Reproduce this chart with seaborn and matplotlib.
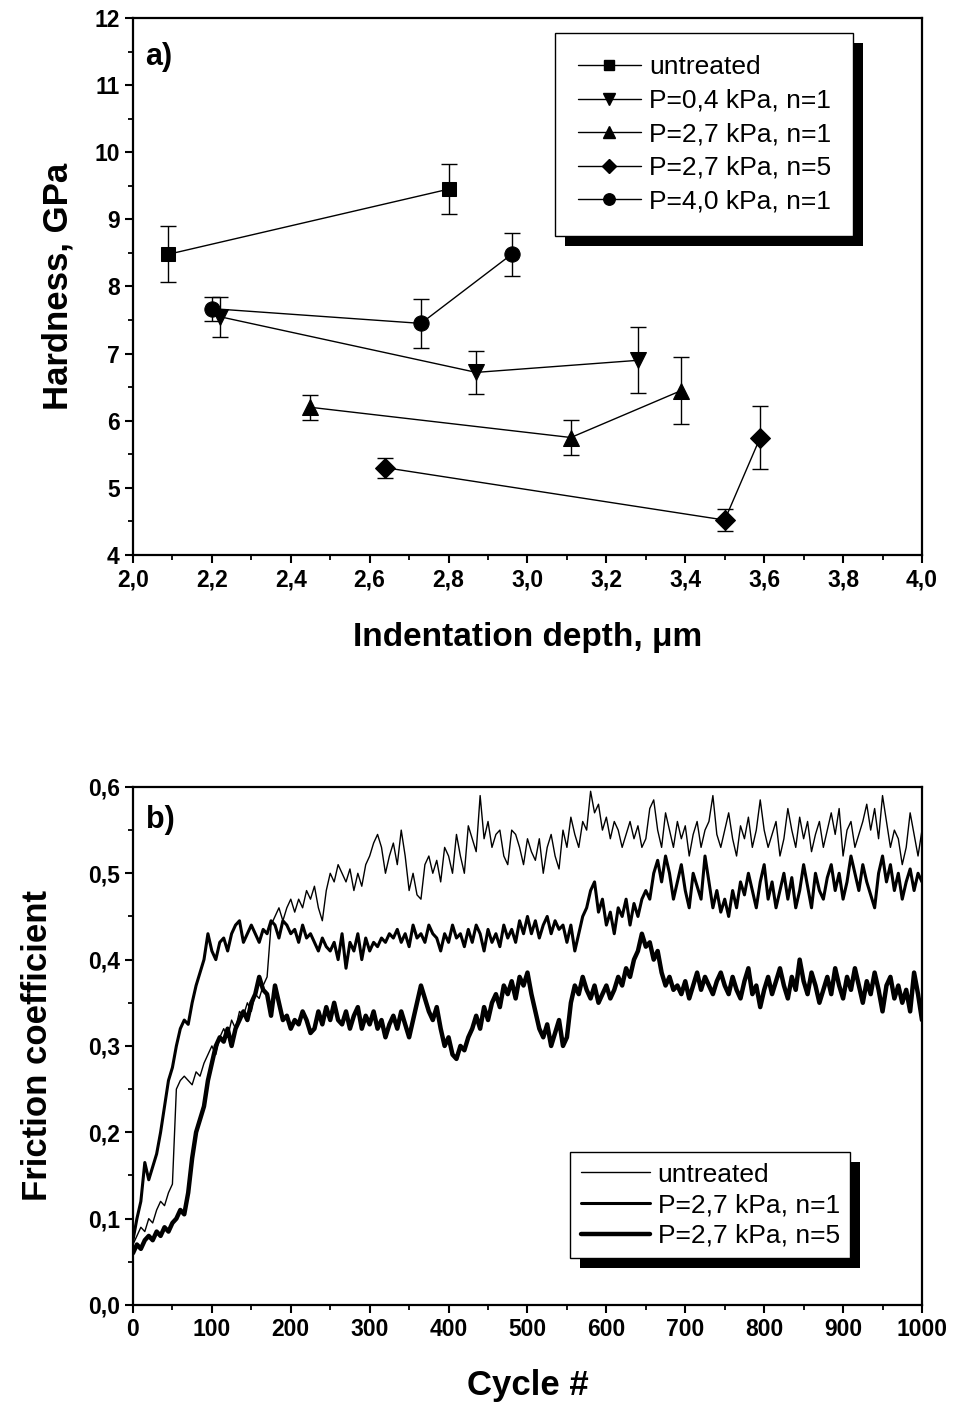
import numpy as np
import pandas as pd
import matplotlib
matplotlib.use("Agg")
import matplotlib.pyplot as plt
import matplotlib.patheffects as pe
from matplotlib.lines import Line2D
from matplotlib.ticker import MultipleLocator, FuncFormatter
import seaborn as sns

# ---------------- data: hardness ----------------
h_series = ["untreated", "P=0,4 kPa, n=1", "P=2,7 kPa, n=1", "P=2,7 kPa, n=5", "P=4,0 kPa, n=1"]
h_markers = ["s", "v", "^", "D", "o"]
depth_untreated = [2.09, 2.80]
hard_untreated = [8.48, 9.45]
err_untreated = [0.42, 0.375]
depth_p04 = [2.22, 2.87, 3.28]
hard_p04 = [7.55, 6.72, 6.90]
err_p04 = [0.30, 0.32, 0.49]
depth_p27n1 = [2.45, 3.11, 3.39]
hard_p27n1 = [6.20, 5.75, 6.45]
err_p27n1 = [0.19, 0.26, 0.50]
depth_p27n5 = [2.64, 3.50, 3.59]
hard_p27n5 = [5.30, 4.52, 5.75]
err_p27n5 = [0.15, 0.16, 0.47]
depth_p40 = [2.20, 2.73, 2.96]
hard_p40 = [7.67, 7.45, 8.48]
err_p40 = [0.18, 0.36, 0.32]

# ---------------- data: friction (every 5 cycles) ----------------
f_series = ["untreated", "P=2,7 kPa, n=1", "P=2,7 kPa, n=5"]
cycles = list(range(0, 1001, 5))
mu_untreated = [
    0.07, 0.08, 0.09, 0.085, 0.10, 0.095, 0.11, 0.12, 0.115, 0.13,
    0.14, 0.25, 0.26, 0.265, 0.26, 0.255, 0.27, 0.265, 0.28, 0.29,
    0.30, 0.29, 0.31, 0.32, 0.31, 0.33, 0.32, 0.34, 0.335, 0.35,
    0.34, 0.36, 0.355, 0.37, 0.38, 0.44, 0.45, 0.46, 0.445, 0.46,
    0.47, 0.455, 0.47, 0.46, 0.48, 0.47, 0.485, 0.46, 0.445, 0.48,
    0.50, 0.49, 0.51, 0.50, 0.49, 0.505, 0.48, 0.50, 0.485, 0.51,
    0.52, 0.535, 0.545, 0.53, 0.50, 0.52, 0.535, 0.51, 0.55, 0.52,
    0.48, 0.50, 0.475, 0.47, 0.51, 0.52, 0.50, 0.515, 0.49, 0.53,
    0.52, 0.50, 0.545, 0.52, 0.50, 0.555, 0.54, 0.525, 0.59, 0.54,
    0.56, 0.53, 0.545, 0.55, 0.52, 0.51, 0.55, 0.545, 0.53, 0.51,
    0.54, 0.525, 0.515, 0.54, 0.50, 0.53, 0.545, 0.52, 0.505, 0.55,
    0.53, 0.565, 0.545, 0.53, 0.56, 0.55, 0.595, 0.57, 0.58, 0.55,
    0.565, 0.54, 0.56, 0.55, 0.53, 0.545, 0.56, 0.54, 0.555, 0.53,
    0.54, 0.575, 0.585, 0.55, 0.53, 0.57, 0.55, 0.53, 0.56, 0.54,
    0.555, 0.52, 0.545, 0.56, 0.53, 0.55, 0.56, 0.59, 0.545, 0.53,
    0.55, 0.57, 0.54, 0.52, 0.555, 0.54, 0.565, 0.53, 0.55, 0.585,
    0.55, 0.53, 0.545, 0.56, 0.52, 0.54, 0.575, 0.55, 0.53, 0.565,
    0.54, 0.56, 0.525, 0.545, 0.56, 0.53, 0.55, 0.57, 0.545, 0.575,
    0.52, 0.55, 0.56, 0.53, 0.545, 0.56, 0.58, 0.55, 0.575, 0.54,
    0.59, 0.56, 0.53, 0.55, 0.54, 0.51, 0.53, 0.57, 0.545, 0.52,
    0.55,
]
mu_p27n1 = [
    0.075, 0.10, 0.12, 0.165, 0.145, 0.16, 0.175, 0.20, 0.23, 0.26,
    0.275, 0.30, 0.32, 0.33, 0.325, 0.35, 0.37, 0.385, 0.40, 0.43,
    0.41, 0.40, 0.42, 0.425, 0.41, 0.43, 0.44, 0.445, 0.42, 0.43,
    0.44, 0.43, 0.42, 0.435, 0.43, 0.445, 0.44, 0.425, 0.445, 0.44,
    0.43, 0.435, 0.42, 0.44, 0.425, 0.43, 0.42, 0.41, 0.425, 0.415,
    0.41, 0.42, 0.40, 0.43, 0.39, 0.42, 0.41, 0.43, 0.40, 0.425,
    0.41, 0.42, 0.415, 0.425, 0.42, 0.43, 0.425, 0.435, 0.42, 0.43,
    0.415, 0.44, 0.425, 0.43, 0.42, 0.44, 0.43, 0.425, 0.41, 0.43,
    0.42, 0.44, 0.425, 0.43, 0.415, 0.435, 0.42, 0.44, 0.43, 0.41,
    0.435, 0.42, 0.43, 0.415, 0.44, 0.425, 0.435, 0.42, 0.445, 0.43,
    0.45, 0.43, 0.445, 0.425, 0.44, 0.45, 0.43, 0.445, 0.435, 0.44,
    0.42, 0.44, 0.41, 0.43, 0.45, 0.46, 0.48, 0.49, 0.455, 0.47,
    0.44, 0.455, 0.43, 0.46, 0.45, 0.47, 0.44, 0.465, 0.45, 0.47,
    0.48, 0.47, 0.50, 0.515, 0.49, 0.52, 0.50, 0.47, 0.49, 0.51,
    0.48, 0.46, 0.50, 0.485, 0.47, 0.52, 0.49, 0.46, 0.48, 0.455,
    0.47, 0.45, 0.48, 0.46, 0.49, 0.475, 0.50, 0.48, 0.46, 0.49,
    0.51, 0.47, 0.49, 0.46, 0.48, 0.50, 0.47, 0.495, 0.46, 0.48,
    0.51, 0.485, 0.46, 0.50, 0.48, 0.47, 0.495, 0.51, 0.48, 0.50,
    0.47, 0.49, 0.52, 0.50, 0.48, 0.51, 0.49, 0.475, 0.46, 0.50,
    0.52, 0.49, 0.51, 0.48, 0.50, 0.47, 0.49, 0.505, 0.48, 0.50,
    0.49,
]
mu_p27n5 = [
    0.06, 0.07, 0.065, 0.075, 0.08, 0.075, 0.085, 0.08, 0.09, 0.085,
    0.095, 0.10, 0.11, 0.105, 0.13, 0.17, 0.20, 0.215, 0.23, 0.26,
    0.28, 0.30, 0.31, 0.305, 0.32, 0.30, 0.32, 0.33, 0.34, 0.33,
    0.35, 0.36, 0.38, 0.365, 0.36, 0.335, 0.37, 0.35, 0.33, 0.335,
    0.32, 0.33, 0.325, 0.34, 0.33, 0.315, 0.32, 0.34, 0.325, 0.345,
    0.33, 0.35, 0.33, 0.325, 0.34, 0.32, 0.335, 0.345, 0.32, 0.335,
    0.325, 0.34, 0.32, 0.33, 0.31, 0.325, 0.335, 0.32, 0.34, 0.325,
    0.31, 0.33, 0.35, 0.37, 0.355, 0.34, 0.33, 0.345, 0.32, 0.30,
    0.31, 0.29, 0.285, 0.30, 0.295, 0.31, 0.32, 0.335, 0.32, 0.345,
    0.33, 0.35, 0.36, 0.345, 0.37, 0.36, 0.375, 0.355, 0.38, 0.37,
    0.385, 0.36, 0.34, 0.32, 0.31, 0.325, 0.30, 0.315, 0.33, 0.30,
    0.31, 0.35, 0.37, 0.36, 0.38, 0.365, 0.355, 0.37, 0.35, 0.36,
    0.37, 0.355, 0.365, 0.38, 0.37, 0.39, 0.38, 0.40, 0.41, 0.43,
    0.415, 0.42, 0.40, 0.41, 0.385, 0.37, 0.38, 0.365, 0.37, 0.36,
    0.375, 0.355, 0.37, 0.385, 0.365, 0.38, 0.37, 0.36, 0.375, 0.385,
    0.37, 0.36, 0.38, 0.365, 0.355, 0.375, 0.39, 0.36, 0.37, 0.345,
    0.365, 0.38, 0.36, 0.375, 0.39, 0.37, 0.355, 0.38, 0.365, 0.40,
    0.375, 0.36, 0.385, 0.37, 0.35, 0.365, 0.38, 0.36, 0.39, 0.37,
    0.355, 0.38, 0.365, 0.39, 0.37, 0.35, 0.375, 0.36, 0.385, 0.365,
    0.34, 0.37, 0.38, 0.355, 0.37, 0.35, 0.365, 0.34, 0.385, 0.36,
    0.33,
]

# ---------------- style ----------------
sns.set_theme(style="ticks")
plt.rcParams["font.family"] = ["Liberation Sans", "DejaVu Sans"]
plt.rcParams.update({
    "text.color": "black",
    "axes.labelcolor": "black",
    "axes.linewidth": 1.6,
    "xtick.major.width": 1.5, "ytick.major.width": 1.5,
    "xtick.minor.width": 1.3, "ytick.minor.width": 1.3,
    "xtick.major.size": 6, "ytick.major.size": 6,
    "xtick.minor.size": 3.5, "ytick.minor.size": 3.5,
    "xtick.direction": "out", "ytick.direction": "out",
    "xtick.color": "black", "ytick.color": "black",
    "xtick.labelcolor": "black", "ytick.labelcolor": "black",
    "axes.edgecolor": "black",
})

fig = plt.figure(figsize=(9.58, 14.05), dpi=100)
ax1 = fig.add_axes([0.1388, 0.605, 0.8236, 0.3822])
ax2 = fig.add_axes([0.1388, 0.0712, 0.8236, 0.3687])

comma1 = FuncFormatter(lambda v, p: f"{v:.1f}".replace(".", ","))
TICK_FS = 16.5
LABEL_FS = 25

# ---------------- panel a) ----------------
depths = [depth_untreated, depth_p04, depth_p27n1, depth_p27n5, depth_p40]
hards = [hard_untreated, hard_p04, hard_p27n1, hard_p27n5, hard_p40]
errs = [err_untreated, err_p04, err_p27n1, err_p27n5, err_p40]
rows = []
for s, d, h, e in zip(h_series, depths, hards, errs):
    for di, hi, ei in zip(d, h, e):
        rows.append({"series": s, "depth": di, "hardness": hi, "err": ei})
hdf = pd.DataFrame(rows)

msizes = {"s": 10.5, "v": 12, "^": 12, "D": 10, "o": 11}
for s, m in zip(h_series, h_markers):
    sub = hdf[hdf["series"] == s]
    ax1.errorbar(sub["depth"], sub["hardness"], yerr=sub["err"], fmt="none",
                 ecolor="black", elinewidth=1.0, capsize=6, capthick=1.0, zorder=2)
    sns.lineplot(data=sub, x="depth", y="hardness", ax=ax1, color="black",
                 marker=m, markersize=msizes[m], markeredgecolor="black",
                 markerfacecolor="black", linewidth=1.0, estimator=None,
                 sort=False, legend=False, zorder=3)

ax1.set_xlim(2.0, 4.0)
ax1.set_ylim(4, 12)
ax1.xaxis.set_major_locator(MultipleLocator(0.2))
ax1.xaxis.set_minor_locator(MultipleLocator(0.1))
ax1.yaxis.set_major_locator(MultipleLocator(1))
ax1.yaxis.set_minor_locator(MultipleLocator(0.5))
ax1.xaxis.set_major_formatter(comma1)
for lab in ax1.get_xticklabels() + ax1.get_yticklabels():
    lab.set_fontsize(TICK_FS)
    lab.set_fontweight("bold")
ax1.set_xlabel("Indentation depth, \u03bcm", fontsize=24, fontweight="bold", labelpad=22)
ax1.set_ylabel("Hardness, GPa", fontsize=LABEL_FS, fontweight="bold", labelpad=14)
ax1.text(0.016, 0.955, "a)", transform=ax1.transAxes, fontsize=22,
         fontweight="bold", va="top", ha="left")

h_handles = [Line2D([], [], color="black", lw=1.0, marker=m,
                    markersize=msizes[m] * 0.75) for m in h_markers]
leg1 = ax1.legend(h_handles, h_series, loc="upper left",
                  bbox_to_anchor=(0.535, 0.972), fontsize=19,
                  frameon=True, fancybox=False, handlelength=2.4,
                  handletextpad=0.3, borderpad=0.85, labelspacing=0.36,
                  borderaxespad=0)
fr = leg1.get_frame()
fr.set_edgecolor("black")
fr.set_linewidth(1.0)
fr.set_alpha(1)
fr.set_path_effects([pe.SimplePatchShadow(offset=(7, -7), shadow_rgbFace="black", alpha=1),
                     pe.Normal()])

# ---------------- panel b) ----------------
frows = []
for s, mu in zip(f_series, [mu_untreated, mu_p27n1, mu_p27n5]):
    for c, v in zip(cycles, mu):
        frows.append({"series": s, "cycle": c, "mu": v})
fdf = pd.DataFrame(frows)
lws = {"untreated": 1.0, "P=2,7 kPa, n=1": 2.2, "P=2,7 kPa, n=5": 3.2}
sns.lineplot(data=fdf, x="cycle", y="mu", hue="series", size="series",
             sizes=lws, palette={s: "black" for s in f_series},
             hue_order=["P=2,7 kPa, n=5", "P=2,7 kPa, n=1", "untreated"],
             estimator=None, legend=False, ax=ax2)

ax2.set_xlim(0, 1000)
ax2.set_ylim(0, 0.6)
ax2.xaxis.set_major_locator(MultipleLocator(100))
ax2.xaxis.set_minor_locator(MultipleLocator(50))
ax2.yaxis.set_major_locator(MultipleLocator(0.1))
ax2.yaxis.set_minor_locator(MultipleLocator(0.05))
ax2.yaxis.set_major_formatter(comma1)
for lab in ax2.get_xticklabels() + ax2.get_yticklabels():
    lab.set_fontsize(TICK_FS)
    lab.set_fontweight("bold")
ax2.set_xlabel("Cycle #", fontsize=LABEL_FS, fontweight="bold", labelpad=20)
ax2.set_ylabel("Friction coefficient", fontsize=LABEL_FS, fontweight="bold", labelpad=24)
ax2.text(0.016, 0.965, "b)", transform=ax2.transAxes, fontsize=22,
         fontweight="bold", va="top", ha="left")

f_handles = [Line2D([], [], color="black", lw=lws[s]) for s in f_series]
leg2 = ax2.legend(f_handles, f_series, loc="upper left",
                  bbox_to_anchor=(0.5545, 0.295), fontsize=19,
                  frameon=True, fancybox=False, handlelength=2.6,
                  handletextpad=0.3, borderpad=0.4, labelspacing=0.25,
                  borderaxespad=0)
fr2 = leg2.get_frame()
fr2.set_edgecolor("black")
fr2.set_linewidth(1.0)
fr2.set_alpha(1)
fr2.set_path_effects([pe.SimplePatchShadow(offset=(7, -7), shadow_rgbFace="black", alpha=1),
                      pe.Normal()])

for ax in (ax1, ax2):
    for sp in ax.spines.values():
        sp.set_visible(True)
        sp.set_linewidth(1.6)
    ax.tick_params(which="both", top=False, right=False)

fig.savefig("out.png", dpi=100, facecolor="white")
